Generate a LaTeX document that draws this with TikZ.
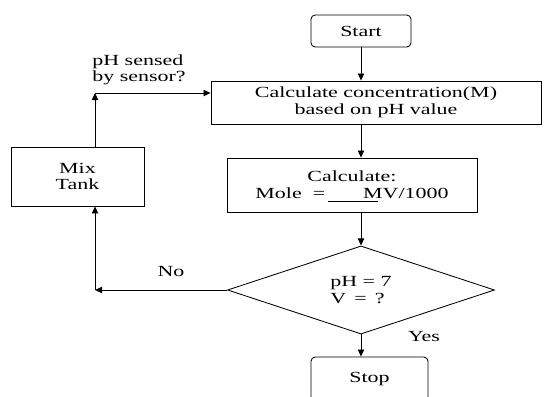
\documentclass[tikz,border=0pt]{standalone}
\usepackage{fontspec}
\setmainfont{Liberation Serif}[FakeStretch=1.42]
\usetikzlibrary{arrows.meta, positioning, calc, shapes.geometric}
\tikzset{
  block/.style    = {draw, rectangle, align=center, inner sep=2pt,
                     font=\fontsize{11}{11.8}\selectfont},
  term/.style     = {block, rounded corners=3pt},
  decision/.style = {draw, diamond, align=left, inner sep=0pt,
                     font=\fontsize{11}{11.8}\selectfont},
  arr/.style      = {-{Triangle[length=5pt, width=4.5pt]}, line width=0.6pt},
  lbl/.style      = {font=\fontsize{11}{11.8}\selectfont, inner sep=0pt}
}

\begin{document}
\begin{tikzpicture}[line width=0.6pt]

  \useasboundingbox (0,0) rectangle (13.6,-9.9);

  % ── Main chain ────────────────────────────────────────────────────────────
  \node[term, minimum width=2.5cm, minimum height=0.8cm]
        (Start) at (9.025,-0.775) {Start};
  \node[block, minimum width=8.25cm, minimum height=1.075cm]
        (Conc) at (9.4,-2.5625) {Calculate concentration(M)\\ based on pH value};
  \node[block, minimum width=6.25cm, minimum height=1.35cm]
        (Mole) at (8.8,-4.625) {Calculate:\\ Mole \ =\hspace{0.95cm}MV/1000};
  \node[decision, minimum width=6.675cm, minimum height=2.175cm]
        (Check) at (9.025,-7.25) {pH = 7\\ V \,= \,?};
  \node[term, minimum width=2.925cm, minimum height=1.1cm]
        (Stop) at (9.2375,-9.475) {Stop};

  % ── Loop back ─────────────────────────────────────────────────────────────
  \node[block, minimum width=3.325cm, minimum height=1.475cm]
        (Mix) at (1.9375,-4.4125) {Mix\\ Tank};
  \coordinate (NoTurn)  at (2.375,-7.25);
  \coordinate (TopTurn) at (2.375,-2.325);

  % fraction bar under the formula
  \draw[line width=0.5pt] ($(Mole.center)+(-0.6,-0.4)$) -- ++(1.25,0);

  % ── Connections ───────────────────────────────────────────────────────────
  \draw[arr] (Start.south) -- (Start.south |- Conc.north);
  \draw[arr] (Start.south |- Conc.south) -- (Start.south |- Mole.north);
  \draw[arr] (Start.south |- Mole.south) -- (Check.north);
  \draw[arr] (Check.south) -- (Check.south |- Stop.north);

  % No branch → mix tank → back to concentration
  \draw[arr] (Check.west) -- (NoTurn);
  \draw[arr] (NoTurn) -- (NoTurn |- Mix.south);
  \draw[arr] (NoTurn |- Mix.north) -- (TopTurn);
  \draw[arr] (TopTurn) -- (TopTurn -| Conc.west);

  % ── Labels ────────────────────────────────────────────────────────────────
  \node[lbl] (LNo)  at (4.275,-6.8)  {No};
  \node[lbl] (LYes) at (10.6,-8.425) {Yes};
  \node[lbl, align=left, anchor=west] (LSense) at (2.3,-1.75)
        {pH sensed\\ by sensor?};

\end{tikzpicture}
\end{document}
